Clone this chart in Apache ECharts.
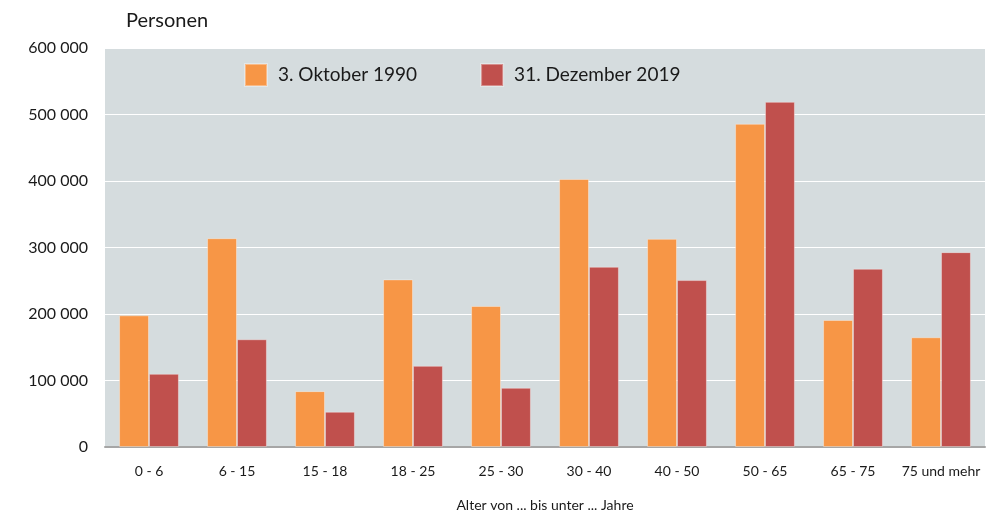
<!DOCTYPE html>
<html>
<head>
<meta charset="utf-8">
<script src="https://cdn.jsdelivr.net/npm/echarts@6/dist/echarts.min.js"></script>
<style>
html,body{margin:0;padding:0;background:#fff;}
#chart{width:1005px;height:515px;}
</style>
</head>
<body>
<div id="chart"></div>
<script>
// Altersgruppen
var categories = ['0 - 6','6 - 15','15 - 18','18 - 25','25 - 30','30 - 40','40 - 50','50 - 65','65 - 75','75 und mehr'];
var data_1990 = [198000, 314000, 84000, 252000, 212000, 403000, 313000, 486000, 191000, 165000];
var data_2019 = [110000, 162000, 53000, 122000, 89000, 271000, 251000, 519000, 268000, 293000];
var series_names = ['3. Oktober 1990', '31. Dezember 2019'];

var font = 'Lato, "Open Sans", sans-serif';

function fmt(v){
    if (v === 0) return '0';
    var s = String(v);
    return s.slice(0, s.length - 3) + ' ' + s.slice(-3);
}

var chart = echarts.init(document.getElementById('chart'));
var option = {
    animation: false,
    color: ['#f79646', '#c0504d'],
    textStyle: {fontFamily: font},
    title: {
        text: 'Personen',
        left: 121,
        top: 6,
        textStyle: {fontSize: 20, fontWeight: 'normal', color: '#1a1a1a', fontFamily: font}
    },
    legend: {
        data: series_names,
        left: 239,
        top: 58,
        itemWidth: 22,
        itemHeight: 22,
        itemGap: 63,
        icon: 'rect',
        textStyle: {fontSize: 19, color: '#1a1a1a', padding: [0, 0, 0, 6], fontFamily: font}
    },
    grid: {
        left: 105,
        right: 20,
        top: 48,
        bottom: 68,
        show: true,
        backgroundColor: '#d5dcde',
        borderWidth: 0,
        outerBoundsMode: 'none',
        containLabel: false
    },
    xAxis: {
        type: 'category',
        data: categories,
        name: 'Alter von ... bis unter ... Jahre',
        nameLocation: 'middle',
        nameGap: 51,
        nameTextStyle: {fontSize: 14, color: '#1a1a1a'},
        axisLine: {lineStyle: {color: '#a6a6a6', width: 2}},
        axisTick: {show: false},
        axisLabel: {fontSize: 14, color: '#1a1a1a', margin: 17, interval: 0}
    },
    yAxis: {
        type: 'value',
        min: 0,
        max: 600000,
        interval: 100000,
        axisLine: {show: false},
        axisTick: {show: false},
        axisLabel: {fontSize: 16, color: '#1a1a1a', margin: 17, formatter: fmt},
        splitLine: {lineStyle: {color: '#ffffff', width: 1}}
    },
    series: [
        {
            name: series_names[0],
            type: 'bar',
            data: data_1990,
            barGap: '0%',
            barCategoryGap: '32%',
            itemStyle: {borderColor: 'rgba(255,255,255,0.35)', borderWidth: 1}
        },
        {
            name: series_names[1],
            type: 'bar',
            data: data_2019,
            itemStyle: {borderColor: 'rgba(255,255,255,0.35)', borderWidth: 1}
        }
    ]
};
chart.setOption(option);
</script>
</body>
</html>
